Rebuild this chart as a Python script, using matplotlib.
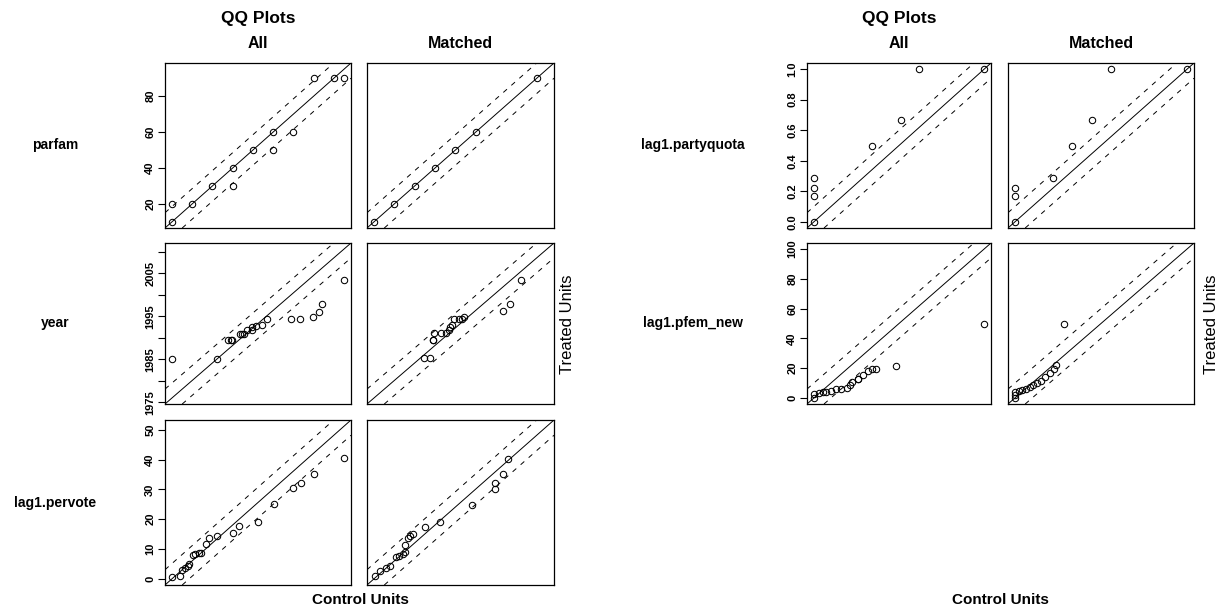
import numpy as np
import matplotlib.pyplot as plt

plt.rcParams['font.family'] = ['Liberation Sans', 'DejaVu Sans']

# quantile pairs (control, treated)
parfam_all_ctrl = [10, 10, 20, 30, 40, 40, 50, 60, 60, 70, 80, 90, 95]
parfam_all_trt = [10, 20, 20, 30, 30, 40, 50, 50, 60, 60, 90, 90, 90]
parfam_m_ctrl = [10, 20, 30, 40, 50, 60, 90]
parfam_m_trt = [10, 20, 30, 40, 50, 60, 90]

year_all_ctrl = [1976, 1985, 1987.4, 1987.9, 1988.2, 1989.7, 1990.2, 1990.6, 1991.2, 1992.2,
                 1992.2, 1992.9, 1994.2, 1995.1, 2000.0, 2001.9, 2004.5, 2005.7, 2006.2, 2010.7]
year_all_trt = [1985, 1985, 1989.4, 1989.4, 1989.4, 1991.0, 1991.0, 1991.0, 1991.8, 1991.8,
                1992.5, 1992.8, 1993.1, 1994.4, 1994.4, 1994.4, 1994.8, 1996.0, 1997.9, 2003.5]
year_m_ctrl = [1986.1, 1987.3, 1987.8, 1987.9, 1988.1, 1989.5, 1990.4, 1991.0, 1991.3, 1991.6,
               1992.1, 1993.0, 1993.7, 1994.1, 2001.9, 2003.2, 2005.5]
year_m_trt = [1985.3, 1985.3, 1989.5, 1989.5, 1991.1, 1991.1, 1991.1, 1991.8, 1992.6, 1993.1,
              1994.5, 1994.5, 1994.5, 1994.8, 1996.2, 1998.0, 2003.5]

pervote_all_ctrl = [0.0, 2.4, 2.9, 3.9, 4.7, 5.2, 6.3, 7.0, 8.1, 8.6, 10.1, 11.1, 13.4, 18.1,
                    19.9, 25.6, 30.4, 36.1, 38.3, 42.2, 51.2]
pervote_all_trt = [0.8, 1.1, 3.0, 3.5, 4.4, 4.9, 8.0, 8.2, 8.7, 8.7, 11.6, 13.8, 14.3, 15.4,
                   17.7, 19.1, 25.0, 30.3, 32.3, 35.3, 40.4]
pervote_m_ctrl = [0.2, 1.9, 3.7, 4.7, 6.4, 7.4, 8.6, 9.1, 9.1, 10.1, 10.6, 11.6, 15.2, 19.5,
                  29.0, 35.7, 35.9, 38.2, 39.5]
pervote_m_trt = [0.9, 2.8, 3.6, 4.2, 7.4, 7.7, 8.3, 8.9, 11.4, 13.8, 14.4, 15.2, 17.5, 19.0,
                 24.7, 30.1, 32.1, 35.2, 40.2]

quota_all_ctrl = [0, 0, 0, 0, 0.34, 0.51, 0.62, 1.0]
quota_all_trt = [0, 0.167, 0.222, 0.286, 0.5, 0.667, 1.0, 1.0]
quota_m_ctrl = [0, 0, 0, 0.22, 0.33, 0.45, 0.56, 1.0]
quota_m_trt = [0, 0.167, 0.222, 0.286, 0.5, 0.667, 1.0, 1.0]

pfem_all_ctrl = [0, 0, 2.8, 5.4, 7.4, 10.1, 13.2, 16.2, 19.5, 21.4, 22.4, 25.7, 25.7,
                 28.9, 31.6, 34.2, 36.7, 48.3, 100]
pfem_all_trt = [0, 3.0, 3.6, 3.8, 4.3, 4.9, 5.8, 6.3, 6.7, 8.7, 11.0, 12.7, 13.0,
                15.4, 18.1, 19.2, 19.2, 21.4, 49.5]
pfem_m_ctrl = [0, 0, 0.3, 2.2, 4.1, 6.6, 8.6, 10.5, 12.8, 15.3, 17.3, 20.2, 22.7, 24.0, 28.3]
pfem_m_trt = [0, 2.0, 4.3, 4.7, 5.4, 6.0, 7.6, 8.7, 9.8, 11.6, 14.3, 16.5, 19.2, 22.1, 49.5]

year_ticks = [1975, 1980, 1985, 1990, 1995, 2000, 2005, 2010]
year_labels = ['1975', '', '1985', '', '1995', '', '2005', '']

W, H = 1225, 611
fig = plt.figure(figsize=(W / 100, H / 100), dpi=100)


def box(x0, y0, x1, y1):
    return [x0 / W, 1 - y1 / H, (x1 - x0) / W, (y1 - y0) / H]


def qq(ax, ctrl, trt, lo, hi, ticks=None, labels=None):
    rr = hi - lo
    pad = 0.04 * rr
    ax.set_xlim(lo - pad, hi + pad)
    ax.set_ylim(lo - pad, hi + pad)
    ax.axline((lo, lo), slope=1, color='black', lw=0.7)
    ax.axline((lo, lo + 0.1 * rr), slope=1, color='black', lw=0.7, ls=(0, (5, 6)))
    ax.axline((lo, lo - 0.1 * rr), slope=1, color='black', lw=0.7, ls=(0, (5, 6)))
    ax.plot(ctrl, trt, 'o', mfc='none', mec='black', ms=4.6, mew=0.75)
    ax.set_xticks([])
    if ticks is None:
        ax.set_yticks([])
    else:
        ax.set_yticks(ticks)
        ax.set_yticklabels(labels if labels is not None else [str(t) for t in ticks],
                           rotation=90, va='center', fontsize=8, fontweight='bold')
        ax.tick_params(axis='y', length=5, width=0.8, pad=2, color='black')
    for s in ax.spines.values():
        s.set_linewidth(0.9)


def figure_half(rows, cols_x, rows_y, label_x, title_x, ctrl_x, treat_x):
    for (name, a_c, a_t, m_c, m_t, ticks, labels), (y0, y1) in zip(rows, rows_y):
        vals = np.concatenate([a_c, a_t, m_c, m_t])
        lo, hi = vals.min(), vals.max()
        ax1 = fig.add_axes(box(cols_x[0][0], y0, cols_x[0][1], y1))
        qq(ax1, a_c, a_t, lo, hi, ticks, labels)
        ax2 = fig.add_axes(box(cols_x[1][0], y0, cols_x[1][1], y1))
        qq(ax2, m_c, m_t, lo, hi)
        fig.text(label_x / W, 1 - (y0 + y1) / 2 / H, name, ha='center', va='center',
                 fontsize=10, fontweight='bold')
    cx1 = (cols_x[0][0] + cols_x[0][1]) / 2
    cx2 = (cols_x[1][0] + cols_x[1][1]) / 2
    fig.text(cx1 / W, 1 - 18 / H, 'QQ Plots', ha='center', va='center',
             fontsize=12.5, fontweight='bold')
    fig.text(cx1 / W, 1 - 43 / H, 'All', ha='center', va='center',
             fontsize=11.5, fontweight='bold')
    fig.text(cx2 / W, 1 - 43 / H, 'Matched', ha='center', va='center',
             fontsize=11.5, fontweight='bold')
    fig.text(ctrl_x / W, 1 - 600 / H, 'Control Units', ha='center', va='center',
             fontsize=11, fontweight='bold')
    fig.text(treat_x / W, 1 - 324 / H, 'Treated Units', ha='center', va='center',
             fontsize=12, rotation=90)


left_rows = [
    ('parfam', parfam_all_ctrl, parfam_all_trt, parfam_m_ctrl, parfam_m_trt, [20, 40, 60, 80], None),
    ('year', year_all_ctrl, year_all_trt, year_m_ctrl, year_m_trt, year_ticks, year_labels),
    ('lag1.pervote', pervote_all_ctrl, pervote_all_trt, pervote_m_ctrl, pervote_m_trt,
     [0, 10, 20, 30, 40, 50], None),
]
right_rows = [
    ('lag1.partyquota', quota_all_ctrl, quota_all_trt, quota_m_ctrl, quota_m_trt,
     [0, 0.2, 0.4, 0.6, 0.8, 1.0], ['0.0', '0.2', '0.4', '0.6', '0.8', '1.0']),
    ('lag1.pfem_new', pfem_all_ctrl, pfem_all_trt, pfem_m_ctrl, pfem_m_trt,
     [0, 20, 40, 60, 80, 100], None),
]
rows_y = [(63, 228), (243, 404), (420, 585)]

figure_half(left_rows, [(165, 351), (367, 554)], rows_y, 55, None, 360, 568)
figure_half(right_rows, [(807, 991), (1008, 1194)], rows_y[:2], 693, None, 1000, 1212)

fig.savefig('out.png', dpi=100)
